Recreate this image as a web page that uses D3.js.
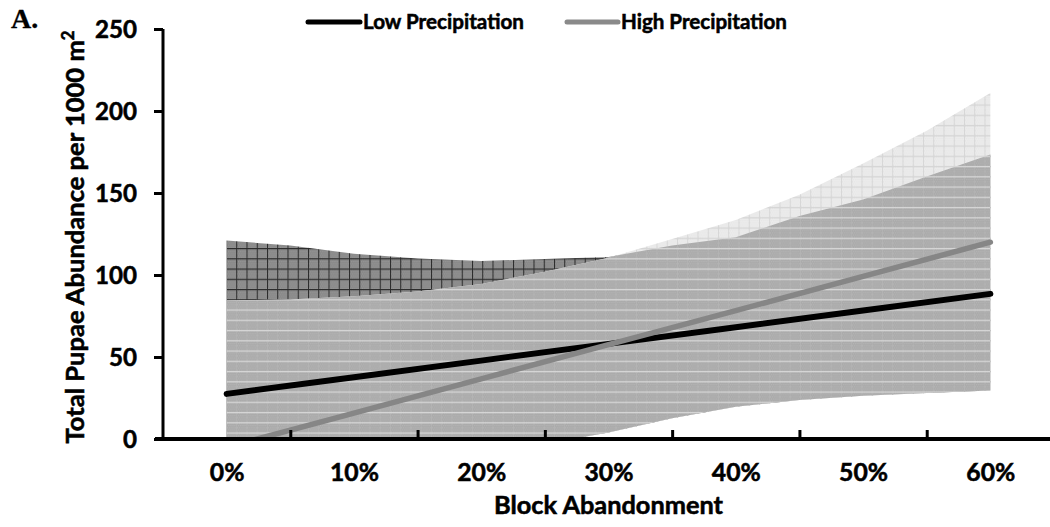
<!DOCTYPE html>
<html>
<head>
<meta charset="utf-8">
<script src="https://cdn.jsdelivr.net/npm/d3@7"></script>
<style>
  html, body { margin: 0; padding: 0; background: #fff; }
  svg { display: block; }
  text { font-family: Lato, "Open Sans", sans-serif; font-weight: 700; fill: #000; stroke: #000; stroke-width: 0.55px; }
</style>
</head>
<body>
<svg id="chart" width="1050" height="527"></svg>
<script>
// ---------------- data ----------------
const categories = ["0%", "10%", "20%", "30%", "40%", "50%", "60%"];
const catValues = [0, 10, 20, 30, 40, 50, 60];
const lowPrecip = [27.5, 37.7, 47.8, 58.0, 68.2, 78.3, 88.5];
const highPrecip = [-5.0, 15.8, 36.7, 57.5, 78.3, 99.2, 120.0];

// confidence band boundaries, read at 5% steps
const bandX = [0, 5, 10, 15, 20, 25, 30, 35, 40, 45, 50, 55, 60];
const lowUpper = [121, 118, 113, 110, 108.5, 109.8, 111, 118, 123, 136, 146, 160, 173.5];
const highUpper = [84.5, 85, 87, 90, 94.5, 102, 110.5, 122, 133.5, 149, 168, 188, 211];
const bandLower = [-55, -45, -35, -25, -14, -3, 4, 12.6, 19.6, 23.8, 26.3, 28, 29.5];

const yTicks = [0, 50, 100, 150, 200, 250];
const seriesNames = ["Low Precipitation", "High Precipitation"];

// ---------------- layout ----------------
const svg = d3.select("#chart");
const plot = { left: 163, right: 1054, top: 29, bottom: 439 };

const x = d3.scaleLinear().domain([-5, 65]).range([plot.left, plot.right]);
const y = d3.scaleLinear().domain([0, 250]).range([plot.bottom, plot.top]);

const defs = svg.append("defs");
defs.append("clipPath").attr("id", "plotClip")
  .append("rect").attr("x", plot.left).attr("y", plot.top)
  .attr("width", plot.right - plot.left).attr("height", plot.bottom - plot.top);

// patterns
const S = 10.25;
function makePattern(id, bg, hColor, vColor, dot) {
  const p = defs.append("pattern").attr("id", id)
    .attr("patternUnits", "userSpaceOnUse")
    .attr("x", 226).attr("y", 2)
    .attr("width", S).attr("height", S);
  p.append("rect").attr("width", S).attr("height", S).attr("fill", bg);
  if (dot) {
    for (let i = 1; i < S - 1; i += 2) for (let j = 1; j < S - 1; j += 2)
      p.append("rect").attr("x", i + ((j % 4 === 1) ? 0 : 1)).attr("y", j)
        .attr("width", 1).attr("height", 1).attr("fill", dot);
  }
  if (vColor) p.append("rect").attr("x", 0).attr("y", 0).attr("width", 1).attr("height", S).attr("fill", vColor);
  if (hColor) p.append("rect").attr("x", 0).attr("y", 0).attr("width", S).attr("height", 1.2).attr("fill", hColor);
}
makePattern("patDark", "#878787", "#2a2a2a", "#2a2a2a", "#9e9e9e");
makePattern("patLight", "#ededed", "#d6d6d6", "#d6d6d6", "#e2e2e2");
makePattern("patMed", "#a9a9a9", "#d6d6d6", "#b3b3b3", "#bbbbbb");

const bandData = bandX.map((v, i) => ({ x: v, lo: bandLower[i], lu: lowUpper[i], hu: highUpper[i] }));

const areaLow = d3.area().x(d => x(d.x)).y0(d => y(d.lo)).y1(d => y(d.lu));
const areaHigh = d3.area().x(d => x(d.x)).y0(d => y(d.lo)).y1(d => y(d.hu));

defs.append("clipPath").attr("id", "lowClip")
  .append("path").attr("d", areaLow(bandData));

const g = svg.append("g").attr("clip-path", "url(#plotClip)");
g.append("path").attr("d", areaLow(bandData)).attr("fill", "url(#patDark)");
g.append("path").attr("d", areaHigh(bandData)).attr("fill", "url(#patLight)");
g.append("g").attr("clip-path", "url(#lowClip)")
  .append("path").attr("d", areaHigh(bandData)).attr("fill", "url(#patMed)");

// lines
const lineGen = d3.line().x(d => x(d[0])).y(d => y(d[1]));
const lowPts = catValues.map((v, i) => [v, lowPrecip[i]]);
const highPts = catValues.map((v, i) => [v, highPrecip[i]]);
g.append("path").attr("d", lineGen(lowPts)).attr("fill", "none")
  .attr("stroke", "#000").attr("stroke-width", 6).attr("stroke-linecap", "round");
g.append("path").attr("d", lineGen(highPts)).attr("fill", "none")
  .attr("stroke", "#868686").attr("stroke-width", 5.5).attr("stroke-linecap", "round");

// ---------------- axes ----------------
function fitFont(sel, target, guess) {
  sel.attr("font-size", guess);
  const w = sel.node().getComputedTextLength();
  const fs = guess * target / w;
  sel.attr("font-size", fs);
  return fs;
}

// y axis
const yAxis = svg.append("g").attr("transform", `translate(${plot.left},0)`)
  .call(d3.axisLeft(y).tickValues(yTicks).tickSize(9).tickPadding(17).tickFormat(d3.format("d")));
yAxis.select(".domain").attr("stroke", "#000").attr("stroke-width", 3)
  .attr("d", `M0,${plot.top}V${plot.bottom + 1}`);
yAxis.selectAll(".tick line").attr("stroke", "#000").attr("stroke-width", 3);
yAxis.selectAll(".tick text").attr("font-family", "Lato").attr("font-weight", 700);
const probeY = yAxis.selectAll(".tick text").filter(d => d === 250);
const yFs = fitFont(probeY, 42, 24);
yAxis.selectAll(".tick text").attr("font-size", yFs).attr("fill", "#000").attr("dy", "0.36em");

// x axis: ticks between categories
const xAxisTicks = svg.append("g").attr("transform", `translate(0,${plot.bottom})`)
  .call(d3.axisBottom(x).tickValues([5, 15, 25, 35, 45, 55]).tickSize(-9).tickFormat(""));
xAxisTicks.select(".domain").attr("stroke", "#000").attr("stroke-width", 4)
  .attr("d", `M${plot.left - 8},0H${plot.right}`);
xAxisTicks.selectAll(".tick line").attr("stroke", "#000").attr("stroke-width", 3);

const xAxisLabels = svg.append("g").attr("transform", `translate(0,${plot.bottom})`)
  .call(d3.axisBottom(x).tickValues(catValues).tickSize(0).tickPadding(24)
    .tickFormat((d, i) => categories[i]));
xAxisLabels.select(".domain").remove();
xAxisLabels.selectAll(".tick text").attr("font-family", "Lato").attr("font-weight", 700);
const probeX = xAxisLabels.selectAll(".tick text").filter(d => d === 60);
const xFs = fitFont(probeX, 49, 24);
xAxisLabels.selectAll(".tick text").attr("font-size", xFs).attr("fill", "#000");

// axis titles
const xTitle = svg.append("text").attr("x", (plot.left + plot.right) / 2).attr("y", 514)
  .attr("text-anchor", "middle").text("Block Abandonment");
fitFont(xTitle, 229, 24);

const yTitle = svg.append("text").attr("transform", "translate(84,237) rotate(-90)")
  .attr("text-anchor", "middle");
yTitle.append("tspan").text("Total Pupae Abundance per 1000 m");
yTitle.append("tspan").attr("baseline-shift", "super").attr("font-size", "0.65em").text("2");
{
  yTitle.attr("font-size", 24);
  const w = yTitle.node().getBBox().width;
  yTitle.attr("font-size", 24 * 413 / w);
}

// panel label
svg.append("text").attr("x", 11).attr("y", 28)
  .style("font-family", "'Liberation Serif', 'Times New Roman', serif")
  .style("font-weight", 700).style("stroke-width", "0.3px")
  .attr("font-size", 28).text("A.");

// legend
const legend = [
  { name: seriesNames[0], color: "#000", x1: 308, x2: 360, tx: 363, tw: 161 },
  { name: seriesNames[1], color: "#8a8a8a", x1: 567, x2: 618, tx: 621, tw: 166 }
];
legend.forEach(l => {
  svg.append("line").attr("x1", l.x1).attr("x2", l.x2).attr("y1", 22).attr("y2", 22)
    .attr("stroke", l.color).attr("stroke-width", 5).attr("stroke-linecap", "round");
  const t = svg.append("text").attr("x", l.tx).attr("y", 22).attr("dy", "0.36em").text(l.name);
  fitFont(t, l.tw, 20);
});
</script>
</body>
</html>
